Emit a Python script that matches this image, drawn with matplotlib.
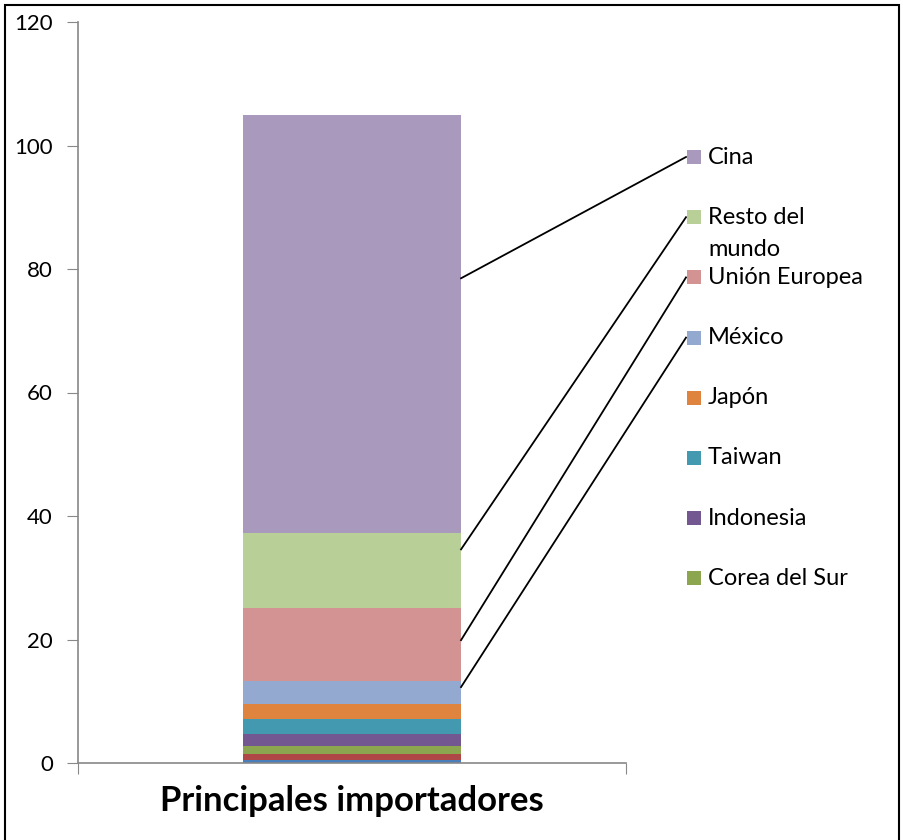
import numpy as np
import matplotlib.pyplot as plt
from matplotlib.patches import Rectangle

plt.rcParams['font.family'] = ['Lato', 'DejaVu Sans']

# series, bottom to top
series = ['Otros', 'Canadá', 'Corea del Sur', 'Indonesia', 'Taiwan', 'Japón',
          'México', 'Unión Europea', 'Resto del\nmundo', 'Cina']
values = [0.5, 1.0, 1.3, 1.9, 2.4, 2.4, 3.8, 11.8, 12.1, 67.8]
colors = ['#4A7EBB', '#B04747', '#8CA650', '#735790', '#4299B0', '#DE843F',
          '#93A9D0', '#D39392', '#B8CF97', '#A99ABD']
legend_items = ['Cina', 'Resto del\nmundo', 'Unión Europea', 'México', 'Japón',
                'Taiwan', 'Indonesia', 'Corea del Sur']
# where each leader line meets the bar (value units)
leader_items = ['Cina', 'Resto del\nmundo', 'Unión Europea', 'México']
leader_at = [78.5, 34.6, 19.9, 12.3]
category = 'Principales importadores'

W, H = 904, 840
fig = plt.figure(figsize=(W / 100, H / 100), dpi=100)
ax = fig.add_axes([78 / W, 1 - 763 / H, (626 - 78) / W, (763 - 22) / H])

bottom = 0
for v, c in zip(values, colors):
    ax.bar(0.5, v, width=0.398, bottom=bottom, color=c, linewidth=0)
    bottom += v

ax.set_xlim(0, 1)
ax.set_ylim(0, 120)
ax.set_yticks(np.arange(0, 121, 20))
ax.set_xticks([0, 1])
ax.set_xticklabels(['', ''])
ax.tick_params(axis='y', labelsize=16, length=8, color='#888888', pad=10)
ax.tick_params(axis='x', length=8, color='#888888')
for s in ['top', 'right']:
    ax.spines[s].set_visible(False)
for s in ['left', 'bottom']:
    ax.spines[s].set_color('#888888')
    ax.spines[s].set_linewidth(1.2)

ax.text(0.5, -0.03, category, transform=ax.transAxes, ha='center', va='top',
        fontsize=25, fontweight='bold')

# manual legend in pixel positions
row0, step = 157, 60.2
bar_right = 0.5 + 0.398 / 2
for i, name in enumerate(legend_items):
    y = row0 + i * step
    fig.patches.append(Rectangle((687 / W, 1 - (y + 7) / H), 14 / W, 14 / H,
                                 transform=fig.transFigure,
                                 facecolor=colors[series.index(name)],
                                 edgecolor='none'))
    lines = name.split('\n')
    for k, t in enumerate(lines):
        fig.text(708 / W, 1 - (y + 32 * k) / H, t, fontsize=17,
                 va='center', ha='left')
    if name in leader_items:
        yv = leader_at[leader_items.index(name)]
        ax.plot([bar_right, (686 - 78) / (626 - 78)],
                [yv, (763 - y) / (763 - 22) * 120],
                color='black', lw=1.3, clip_on=False)

fig.patches.append(Rectangle((5 / W, -0.01), 894 / W, 1 - 5 / H + 0.01,
                             transform=fig.transFigure, fill=False,
                             edgecolor='black', lw=1.5))

fig.savefig('out.png', dpi=100)
